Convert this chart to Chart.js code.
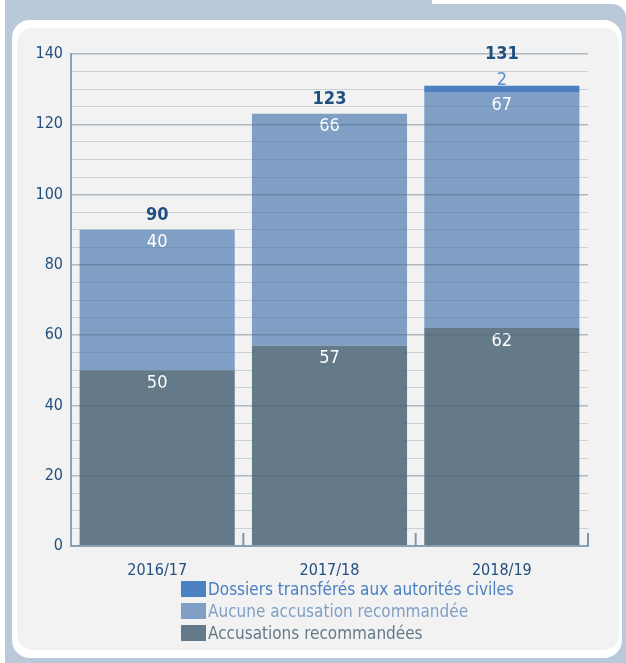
<!DOCTYPE html>
<html>
<head>
<meta charset="utf-8">
<script src="https://cdn.jsdelivr.net/npm/chart.js@4/dist/chart.umd.min.js"></script>
<style>
  html, body { margin: 0; padding: 0; background: #fff; }
  #wrap { position: relative; width: 626px; height: 663px; overflow: hidden; }
  .bg { position: absolute; left: 5px; top: 4px; width: 621px; height: 659px; background: #bac9da; border-top-right-radius: 14px; }
  .tab { position: absolute; left: 5px; top: 0; width: 427px; height: 10px; background: #bac9da; }
  .outer { position: absolute; left: 12px; top: 20px; width: 610px; height: 638px; background: #fff; border-radius: 18px; }
  .inner { position: absolute; left: 17px; top: 28px; width: 602px; height: 622px; background: #f2f2f2; border-radius: 15px; }
  canvas { position: absolute; left: 0; top: 0; }
  #legend { position: absolute; left: 181px; top: 578px; font-family: 'Liberation Sans Narrow', 'DejaVu Sans Condensed', 'Noto Sans', sans-serif; font-size: 17px; }
  #legend div { display: flex; align-items: center; height: 22px; white-space: nowrap; }
  #legend span.box { display: inline-block; width: 25px; height: 16px; margin-right: 2px; }
</style>
</head>
<body>
<div id="wrap">
  <div class="bg"></div>
  <div class="tab"></div>
  <div class="outer"></div>
  <div class="inner"></div>
  <canvas id="chart" width="626" height="663"></canvas>
  <div id="legend"></div>
</div>
<script>
const years = ['2016/17', '2017/18', '2018/19'];
const accusations = [50, 57, 62];
const aucune = [40, 66, 67];
const transferes = [0, 0, 2];
const totals = [90, 123, 131];

const FONT = "'Liberation Sans Narrow', 'DejaVu Sans Condensed', 'Noto Sans', sans-serif";
const colDark = '#647a88';
const colMid = '#7f9fc4';
const colTop = '#4b80c2';
const colText = '#22507f';

// chiffres sur les barres + totaux
const valueLabels = {
  id: 'valueLabels',
  afterDatasetsDraw(chart) {
    const ctx = chart.ctx;
    ctx.save();
    ctx.textAlign = 'center';
    ctx.textBaseline = 'middle';
    chart.data.datasets.forEach((ds, di) => {
      const meta = chart.getDatasetMeta(di);
      meta.data.forEach((bar, i) => {
        const v = ds.data[i];
        if (!v) return;
        ctx.font = '18px ' + FONT;
        if (di === 2) {
          ctx.fillStyle = '#5a8ed0';
          ctx.fillText(v, bar.x, bar.y - 5);
        } else {
          ctx.fillStyle = '#ffffff';
          ctx.fillText(v, bar.x, bar.y + 13);
        }
      });
    });
    const meta0 = chart.getDatasetMeta(0);
    ctx.font = 'bold 18px ' + FONT;
    ctx.fillStyle = '#1e4f7f';
    totals.forEach((t, i) => {
      const y = chart.scales.y.getPixelForValue(t);
      const off = transferes[i] ? 31 : 14;
      ctx.fillText(t, meta0.data[i].x, y - off);
    });
    ctx.restore();
  }
};

// petits traits verticaux entre les catégories, sur l'axe x
const xMarks = {
  id: 'xMarks',
  afterDraw(chart) {
    const ctx = chart.ctx;
    const xs = chart.scales.x;
    const bottom = chart.chartArea.bottom;
    ctx.save();
    ctx.strokeStyle = '#7f97ad';
    ctx.lineWidth = 2;
    for (let i = 0; i < years.length; i++) {
      const x = i < years.length - 1
        ? (xs.getPixelForValue(i) + xs.getPixelForValue(i + 1)) / 2
        : chart.chartArea.right;
      ctx.beginPath();
      ctx.moveTo(x, bottom);
      ctx.lineTo(x, bottom - 13);
      ctx.stroke();
    }
    ctx.restore();
  }
};

new Chart(document.getElementById('chart'), {
  type: 'bar',
  data: {
    labels: years,
    datasets: [
      { label: 'Accusations recommandées', data: accusations, backgroundColor: colDark },
      { label: 'Aucune accusation recommandée', data: aucune, backgroundColor: colMid },
      { label: 'Dossiers transférés aux autorités civiles', data: transferes, backgroundColor: colTop }
    ]
  },
  options: {
    responsive: false,
    animation: false,
    devicePixelRatio: 1,
    datasets: { bar: { barPercentage: 0.9, categoryPercentage: 1 } },
    layout: { padding: { left: 0, top: 54, right: 38, bottom: 0 } },
    plugins: {
      legend: { display: false },
      tooltip: { enabled: false }
    },
    scales: {
      x: {
        stacked: true,
        grid: { display: false },
        border: { display: true, color: '#8aa0b4', width: 2, z: 2 },
        ticks: { color: colText, font: { family: FONT, size: 16 }, padding: 7 },
        afterFit(s) { s.height = 117; }
      },
      y: {
        stacked: true,
        min: 0,
        max: 140,
        grid: {
          z: 1,
          drawTicks: false,
          color: c => (c.tick && c.tick.value % 20 === 0) ? 'rgba(75,100,125,0.4)' : 'rgba(85,115,145,0.25)',
          lineWidth: c => (c.tick && c.tick.value % 20 === 0) ? 1.5 : 1
        },
        border: { display: true, color: '#8aa0b4', width: 2, z: 2 },
        ticks: {
          stepSize: 5,
          autoSkip: false,
          padding: 8,
          color: colText,
          font: { family: FONT, size: 16 },
          callback: v => (v % 20 === 0 ? v : '')
        },
        afterFit(s) { s.width = 71; }
      }
    }
  },
  plugins: [valueLabels, xMarks]
});

// légende verticale, ordre inversé
const legendItems = [
  ['Dossiers transférés aux autorités civiles', colTop],
  ['Aucune accusation recommandée', colMid],
  ['Accusations recommandées', colDark]
];
const leg = document.getElementById('legend');
legendItems.forEach(([txt, col]) => {
  const row = document.createElement('div');
  row.innerHTML = '<span class="box" style="background:' + col + '"></span><span style="color:' + col + '">' + txt + '</span>';
  leg.appendChild(row);
});
</script>
</body>
</html>
